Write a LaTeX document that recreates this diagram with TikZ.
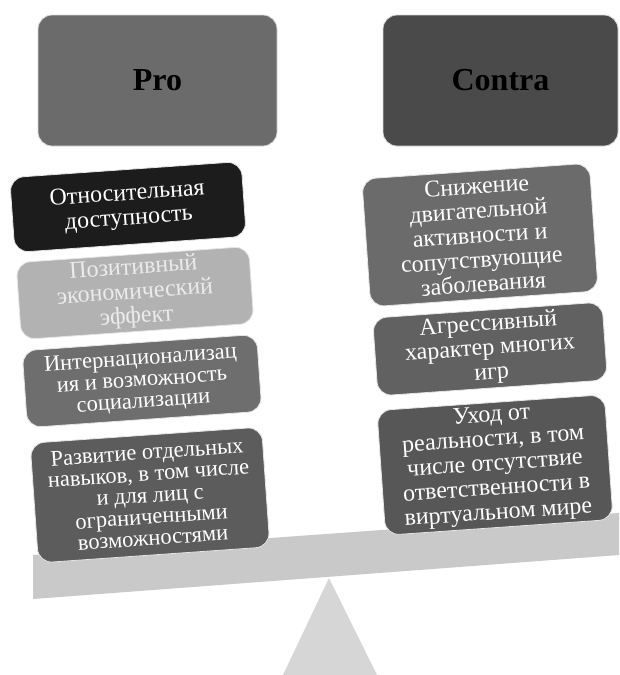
\documentclass[tikz,border=0pt]{standalone}
\usepackage{fontspec}
\newfontfamily\lsf{Liberation Serif}
\begin{document}
\begin{tikzpicture}[x=1pt,y=-1pt,
  head/.style={rounded corners=14pt, draw=white!85!black, line width=0.8pt, minimum width=239pt, minimum height=131pt, font=\lsf\fontsize{32}{34}\selectfont\bfseries, text=black},
  item/.style={rounded corners=14pt, draw=white!90!black, line width=0.8pt, rotate=4, align=center, text=white, inner sep=2pt},
  f24/.style={font=\lsf\fontsize{24}{24.5}\selectfont},
  f22/.style={font=\lsf\fontsize{22.5}{21.5}\selectfont}]
\useasboundingbox (0,0) rectangle (619,675);
\fill[white] (0,0) rectangle (619,675);
% fulcrum
\fill[black!16] (283,675) -- (329,578) -- (377,675) -- cycle;
% beam
\fill[black!21] (33,555) -- (619,513) -- (619,555) -- (33,599) -- cycle;
% headers
\node[head, fill=black!58] (pro) at (157.5,80.5) {Pro};
\node[head, fill=black!71, minimum width=235pt] (contra) at (500.5,80.5) {Contra};
% left items
\node[item, f24, fill=black!89, minimum width=232pt, minimum height=75pt] (l1) at (128,207) {Относительная\\доступность};
\node[item, f24, fill=black!30, text=white!92!black, minimum width=233pt, minimum height=77pt] (l2) at (135,293) {Позитивный\\экономический\\эффект};
\node[item, f22, fill=black!57, minimum width=235pt, minimum height=77pt] (l3) at (142,381) {Интернационализац\\ия и возможность\\социализации};
\node[item, f22, fill=black!64, minimum width=232pt, minimum height=120pt] (l4) at (150,495) {Развитие отдельных\\навыков, в том числе\\и для лиц с\\ограниченными\\возможностями};
% right items
\node[item, f24, fill=black!58, minimum width=228pt, minimum height=128pt] (r1) at (480,235) {Снижение\\двигательной\\активности и\\сопутствующие\\заболевания};
\node[item, f24, fill=black!62, minimum width=230pt, minimum height=78pt] (r2) at (490,349) {Агрессивный\\характер многих\\игр};
\node[item, f24, fill=black!66, minimum width=228pt, minimum height=125pt] (r3) at (495,465) {Уход от\\реальности, в том\\числе отсутствие\\ответственности в\\виртуальном мире};
\end{tikzpicture}
\end{document}
